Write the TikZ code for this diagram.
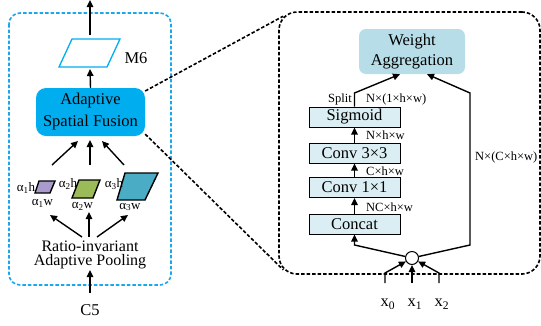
\documentclass[tikz,border=0pt]{standalone}
\usepackage{fontspec}
\setmainfont{Liberation Serif}
\usetikzlibrary{arrows.meta}
\definecolor{cyanline}{HTML}{1AA7EC}
\definecolor{asffill}{HTML}{00AEEF}
\definecolor{wafill}{HTML}{B7DEE8}
\definecolor{boxfill}{HTML}{DBEEF3}
\definecolor{purp}{HTML}{A99BCB}
\definecolor{grn}{HTML}{9BBB59}
\definecolor{teal2}{HTML}{4BACC6}
\tikzset{
  arr/.style={line width=1.4pt,-{Triangle[length=7pt,width=6.5pt]}},
  plain/.style={line width=1.4pt},
  bluedash/.style={draw=cyanline,line width=1.6pt,dash pattern=on 3.5pt off 2pt},
  blackdash/.style={draw=black,line width=1.6pt,dash pattern=on 3.5pt off 2pt},
  stagebox/.style={draw,line width=1pt,fill=boxfill,minimum width=91pt,minimum height=20pt,inner sep=0pt,font=\fontsize{16.5}{18}\selectfont},
  small/.style={font=\fontsize{12.5}{14}\selectfont,inner sep=0pt},
  alab/.style={font=\fontsize{13}{14}\selectfont,inner sep=0pt},
  para/.style={line width=1.4pt,draw=black},
}
\begin{document}
\begin{tikzpicture}[x=1pt,y=-1pt,font=\fontsize{16.5}{18}\selectfont]
\useasboundingbox (0,0) rectangle (541,325);

% left module
\draw[bluedash,rounded corners=11pt] (9,13) rectangle (171,285);
\node[fill=asffill,rounded corners=10pt,minimum width=109pt,minimum height=48pt,inner sep=0pt,align=center,font=\fontsize{16.5}{22}\selectfont] (asf) at (90.5,112) {Adaptive\\Spatial Fusion};
\draw[draw=asffill,line width=1.3pt,fill=white] (72,39) -- (120,39) -- (107,67) -- (59,67) -- cycle;
\coordinate (m6top) at (90,35);
\coordinate (m6bot) at (90,69);
\coordinate (outtop) at (90,0);
\node[inner sep=0pt] (m6) at (136,58) {M6};
\draw[arr] (m6top) -- (outtop);
\draw[arr] (asf.north) -- (m6bot);

% small parallelograms
\draw[para,fill=purp] (39,181) -- (55,181) -- (50,193) -- (35,193) -- cycle;
\draw[para,fill=grn] (79,180) -- (100,180) -- (93,198) -- (72,198) -- cycle;
\draw[para,fill=teal2] (125,173) -- (158,173) -- (145,200) -- (117,200) -- cycle;
\node[alab] (a1h) at (26,188) {α\textsubscript{1}h};
\node[alab] (a1w) at (42.5,203) {α\textsubscript{1}w};
\node[alab] (a2h) at (68,184) {α\textsubscript{2}h};
\node[alab] (a2w) at (82.5,206) {α\textsubscript{2}w};
\node[alab] (a3h) at (114,184) {α\textsubscript{3}h};
\node[alab] (a3w) at (130,207) {α\textsubscript{3}w};

\coordinate (u1) at (52,165); \coordinate (u2) at (90,165); \coordinate (u3) at (124,165);
\coordinate (v1) at (78,141); \coordinate (v2) at (90,140); \coordinate (v3) at (102,141);
\draw[arr] (u1) -- (v1);
\draw[arr] (u2) -- (v2);
\draw[arr] (u3) -- (v3);

\node[align=center,inner sep=0pt,font=\fontsize{16}{14.5}\selectfont] (pool) at (90,255) {Ratio-invariant\\Adaptive Pooling};
\coordinate (p1) at (82,237); \coordinate (p2) at (89,237); \coordinate (p3) at (97,237);
\coordinate (q1) at (50,215); \coordinate (q2) at (89,212); \coordinate (q3) at (128,215);
\draw[arr] (p1) -- (q1);
\draw[arr] (p2) -- (q2);
\draw[arr] (p3) -- (q3);

\node[inner sep=0pt] (c5) at (90,310) {C5};
\coordinate (c5top) at (90,293);
\coordinate (poolbot) at (90,270);
\draw[arr] (c5top) -- (poolbot);

% right module frame
\node[blackdash,rounded corners=18pt,minimum width=261pt,minimum height=262pt,inner sep=0pt] (rbox) at (409.5,143) {};
\draw[blackdash] (asf.21) -- ([shift={(5,5)}]rbox.north west);
\draw[blackdash] (asf.-22) -- ([shift={(5,-5)}]rbox.south west);

% right content
\node[fill=wafill,rounded corners=7pt,minimum width=106pt,minimum height=45pt,inner sep=0pt,align=center,font=\fontsize{16.5}{20}\selectfont] (wa) at (412,51.5) {Weight\\Aggregation};
\node[stagebox] (sig) at (354.5,117) {Sigmoid};
\node[stagebox] (c33) at (354.5,153) {Conv 3×3};
\node[stagebox] (c11) at (354.5,187.5) {Conv 1×1};
\node[stagebox] (cat) at (354.5,224) {Concat};
\node[circle,draw,line width=1pt,fill=white,minimum size=13pt,inner sep=0pt] (circ) at (412,258) {};

\draw[arr] (c33.north) -- (sig.south);
\draw[arr] (c11.north) -- (c33.south);
\draw[arr] (cat.north) -- (c11.south);

\coordinate (sp) at (354.5,93);
\draw[arr] (sig.north) -- (sp) -- ([xshift=-12pt]wa.south);
\coordinate (rb1) at (470,245);
\coordinate (rb2) at (470,93);
\draw[arr] (circ) -- (rb1) -- (rb2) -- ([xshift=15pt]wa.south);
\coordinate (lb) at (354.5,245);
\draw[arr] (circ) -- (lb) -- (cat.south);

\node[small,anchor=east] (split) at (352,99) {Split};
\node[small,anchor=west] (l1) at (366,99) {N×(1×h×w)};
\node[small,anchor=west] (l2) at (366,135) {N×h×w};
\node[small,anchor=west] (l3) at (366,171) {C×h×w};
\node[small,anchor=west] (l4) at (366,207) {NC×h×w};
\node[small,anchor=west] (l5) at (475,157) {N×(C×h×w)};

% inputs
\node[inner sep=0pt] (x0) at (388,304) {x\textsubscript{0}};
\node[inner sep=0pt] (x1) at (415,304) {x\textsubscript{1}};
\node[inner sep=0pt] (x2) at (442,304) {x\textsubscript{2}};
\coordinate (i0) at (385,283); \coordinate (j0) at (385,273);
\coordinate (i1) at (412,283);
\coordinate (i2) at (439,283); \coordinate (j2) at (439,273);
\draw[arr] (i0) -- (j0) -- (circ);
\draw[arr] (i1) -- (circ);
\draw[arr] (i2) -- (j2) -- (circ);
\end{tikzpicture}
\end{document}
